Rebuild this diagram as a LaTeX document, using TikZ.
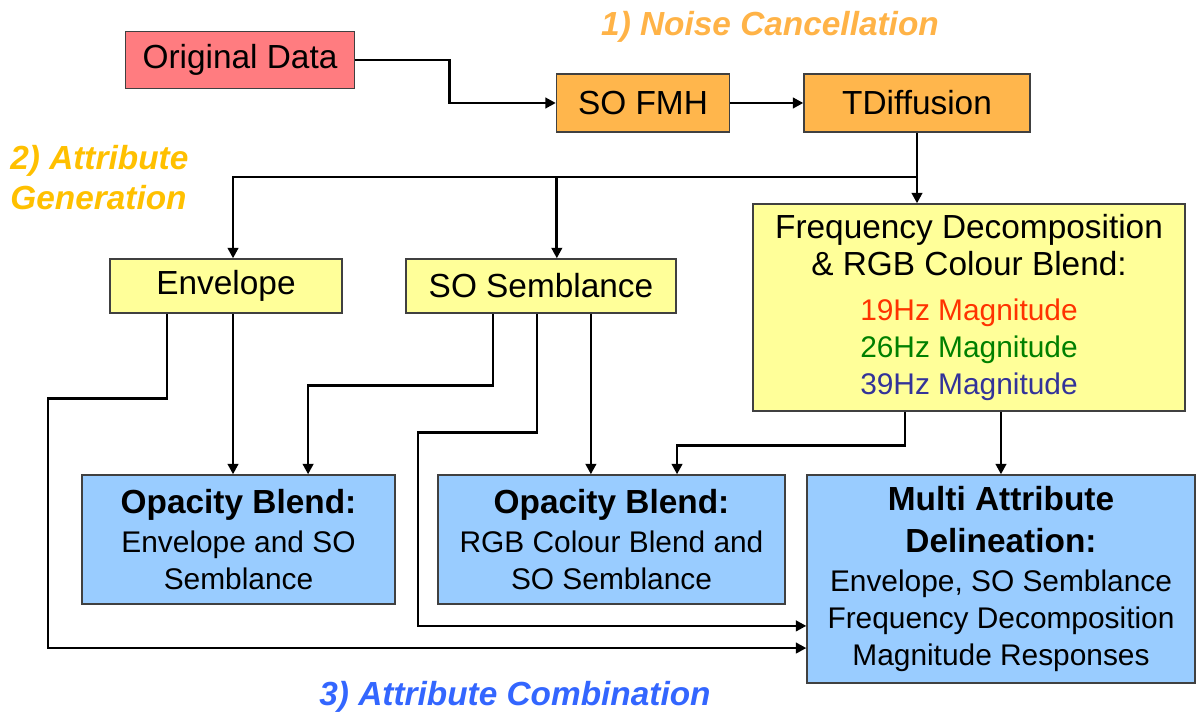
\documentclass[tikz,border=0pt]{standalone}
\usepackage{fontspec}
\setmainfont{Liberation Sans}
\usetikzlibrary{arrows.meta,calc}
\definecolor{edge}{HTML}{404040}
\definecolor{rawfill}{HTML}{FF7C80}
\definecolor{prefill}{HTML}{FFB64C}
\definecolor{attfill}{HTML}{FFFF99}
\definecolor{comfill}{HTML}{99CCFF}
\definecolor{hzred}{HTML}{FF3300}
\definecolor{hzgreen}{HTML}{008000}
\definecolor{hzblue}{HTML}{333399}
\definecolor{st1}{HTML}{FFB347}
\definecolor{st2}{HTML}{FFC000}
\definecolor{st3}{HTML}{3366FF}

\begin{document}
\begin{tikzpicture}[
  x=0.02cm, y=-0.02cm,
  >={Triangle[length=6pt,width=6pt]},
  box/.style={draw=edge, line width=0.8pt, fill=#1, align=center, inner sep=2pt, font=\fontsize{19}{21}\selectfont},
  arr/.style={->, line width=1.6pt, color=black},
  stage/.style={font=\fontsize{19}{22.8}\selectfont\bfseries\itshape, text=#1, align=left, inner sep=0pt},
]
\useasboundingbox (0,0) rectangle (1196,715);

\node[stage=st1] (noise) at (770,27) {1) Noise Cancellation};
\node[stage=st2, anchor=west] (gen) at (10,178) {2) Attribute\\Generation};
\node[stage=st3] (comb) at (515,697) {3) Attribute Combination};

\node[box=rawfill, minimum width=4.58cm, minimum height=1.14cm] (orig) at (240,60) {Original Data};
\node[box=prefill, minimum width=3.46cm, minimum height=1.16cm] (fmh) at (643,103) {SO FMH};
\node[box=prefill, minimum width=4.52cm, minimum height=1.16cm] (tdiff) at (917,103) {TDiffusion};

\node[box=attfill, minimum width=4.64cm, minimum height=1.08cm] (env) at (226,286) {Envelope};
\node[box=attfill, minimum width=5.40cm, minimum height=1.08cm] (sosem) at (541,286) {SO Semblance};
\node[box=attfill, minimum width=8.64cm, minimum height=4.14cm] (freq) at (969,307.5) {Frequency Decomposition\\ \& RGB Colour Blend:\\[4.5pt]
  {\fontsize{17}{21}\selectfont\color{hzred}19Hz Magnitude}\\
  {\fontsize{17}{21}\selectfont\color{hzgreen}26Hz Magnitude}\\
  {\fontsize{17}{21}\selectfont\color{hzblue}39Hz Magnitude}};

\node[box=comfill, minimum width=6.26cm, minimum height=2.58cm] (ob1) at (238.5,539.5) {\textbf{Opacity Blend:}\\[1pt]
  {\fontsize{17}{21}\selectfont Envelope and SO}\\ {\fontsize{17}{21}\selectfont Semblance}};
\node[box=comfill, minimum width=6.94cm, minimum height=2.58cm] (ob2) at (611.5,539.5) {\textbf{Opacity Blend:}\\[1pt]
  {\fontsize{17}{21}\selectfont RGB Colour Blend and}\\ {\fontsize{17}{21}\selectfont SO Semblance}};
\node[box=comfill, minimum width=7.76cm, minimum height=4.16cm] (mad) at (1001,579) {\textbf{Multi Attribute}\\[3pt] \textbf{Delineation:}\\[1pt]
  {\fontsize{17}{21}\selectfont Envelope, SO Semblance}\\
  {\fontsize{17}{21}\selectfont Frequency Decomposition}\\
  {\fontsize{17}{21}\selectfont Magnitude Responses}};

% noise cancellation chain
\draw[arr] (orig.east) -- ++(94,0) |- (fmh.west);
\draw[arr] (fmh.east) -- (tdiff.west);

% attribute generation
\coordinate (split) at (917,177);
\draw[arr] (tdiff.south) -- (tdiff.south |- freq.north);
\draw[arr] (split) -| ([xshift=4pt]env.north);
\draw[arr] (split) -| ([xshift=9pt]sosem.north);

% attribute combination
\draw[arr] ([xshift=4pt]env.south) -- ([xshift=4pt]env.south |- ob1.north);
\draw[arr] ([xshift=-33.6pt]env.south) -- ++(0,85) -- ++(-119,0) |- ([yshift=-39.3pt]mad.west);
\draw[arr] ([xshift=-27.3pt]sosem.south) -- ++(0,72) -| ([xshift=39.6pt]ob1.north);
\draw[arr] ([xshift=-2.3pt]sosem.south) -- ++(0,119) -- ++(-119,0) |- ([yshift=-26.7pt]mad.west);
\draw[arr] ([xshift=28.4pt]sosem.south) -- ([xshift=28.4pt]sosem.south |- ob2.north);
\draw[arr] ([xshift=-36.4pt]freq.south) -- ++(0,34) -| ([xshift=37.3pt]ob2.north);
\draw[arr] ([xshift=18.2pt]freq.south) -- ([xshift=18.2pt]freq.south |- mad.north);

\end{tikzpicture}
\end{document}
